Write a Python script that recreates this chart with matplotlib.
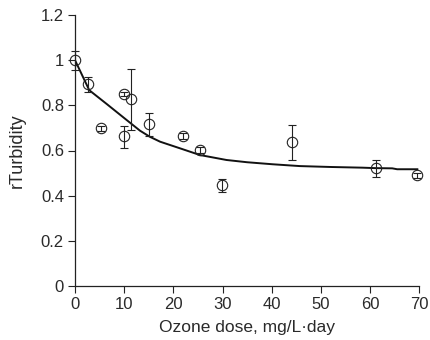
import matplotlib
matplotlib.use("Agg")
import matplotlib.pyplot as plt

plt.rcParams['font.family'] = ['Liberation Sans', 'DejaVu Sans']

# Measured relative turbidity with error bars
dose = [0, 2.7, 5.3, 9.9, 9.9, 11.4, 15.0, 21.9, 25.4, 29.9, 44.1, 61.1, 69.5]
rturb = [1.0, 0.895, 0.698, 0.850, 0.664, 0.827, 0.716, 0.664, 0.602, 0.446, 0.638, 0.521, 0.490]
err_lo = [0.044, 0.035, 0.012, 0.010, 0.054, 0.137, 0.052, 0.015, 0.012, 0.030, 0.079, 0.037, 0.010]
err_hi = [0.040, 0.032, 0.012, 0.010, 0.046, 0.133, 0.049, 0.015, 0.012, 0.030, 0.073, 0.036, 0.010]

# Model curve
model_dose = [0, 2.9, 6.5, 10.5, 13.2, 15.2, 17.3, 21.3, 25.4, 30.8, 35.0, 40.2, 45.7, 52.0, 58.4, 61.0, 64.5, 65.5, 69.6]
model_rturb = [1.0, 0.867, 0.805, 0.735, 0.688, 0.661, 0.639, 0.610, 0.580, 0.558, 0.548, 0.539, 0.531, 0.527, 0.524, 0.522, 0.521, 0.517, 0.517]

xticks = [0, 10, 20, 30, 40, 50, 60, 70]
yticks = [0, 0.2, 0.4, 0.6, 0.8, 1.0, 1.2]
yticklabels = ['0', '0.2', '0.4', '0.6', '0.8', '1', '1.2']

fig = plt.figure(figsize=(4.3, 3.4), dpi=100)
ax = fig.add_axes([75/430, 1-286/340, 344.3/430, 271/340])

txt = '#2a2a2a'
ax.plot(model_dose, model_rturb, color='#111111', lw=1.4, zorder=2)
eb = ax.errorbar(dose, rturb, yerr=[err_lo, err_hi], fmt='o', mfc='none', mec='#222222',
                 mew=0.8, ms=7.5, ecolor='#222222', elinewidth=0.8, capsize=3, capthick=0.8,
                 zorder=3)
for art in eb.get_children():
    art.set_clip_on(False)

ax.set_xlim(0, 70)
ax.set_ylim(0, 1.2)
ax.set_xticks(xticks)
ax.set_yticks(yticks)
ax.set_yticklabels(yticklabels)
for s in ['top', 'right']:
    ax.spines[s].set_visible(False)
for s in ['left', 'bottom']:
    ax.spines[s].set_color('#222222')
    ax.spines[s].set_linewidth(0.9)
ax.tick_params(direction='out', length=5, width=0.8, color='#222222', labelsize=12, labelcolor=txt, pad=3)
ax.set_xlabel('Ozone dose, mg/L·day', fontsize=12.5, color=txt, labelpad=6)
ax.set_ylabel('rTurbidity', fontsize=13, color=txt, labelpad=11)

fig.savefig('out.png', dpi=100)
